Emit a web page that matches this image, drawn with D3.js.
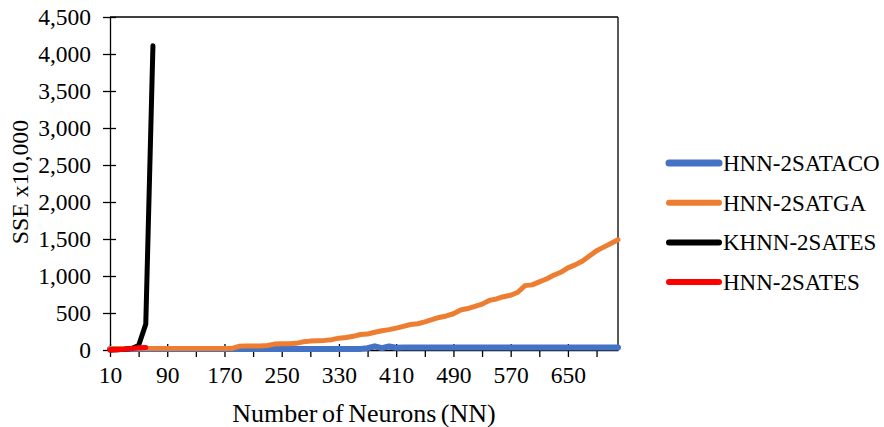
<!DOCTYPE html>
<html>
<head>
<meta charset="utf-8">
<script src="https://cdn.jsdelivr.net/npm/d3@7"></script>
<style>
  body { margin: 0; background: #fff; }
  svg { display: block; }
  svg text { font-family: 'Liberation Serif', 'Times New Roman', serif; fill: #000; }
</style>
</head>
<body>
<svg id="chart" width="884" height="427"></svg>
<script>
// ---- data ----
const neurons = d3.range(10, 721, 10); // 10..720 step 10
const seriesNames = ["HNN-2SATACO", "HNN-2SATGA", "KHNN-2SATES", "HNN-2SATES"];
const seriesColors = ["#4472C4", "#ED7D31", "#000000", "#FF0000"];
const seriesWidths = [6, 5, 5, 5];

const acoValues = [
  15,15,15,15,15,15,15,15,15,15, 15,15,15,15,15,15,15,15,15,15,
  15,15,15,15,15,15,15,15,15,15, 15,15,15,15,15,15,25,50,25,48,
  30,35,35,35,35,35,35,35,35,35, 35,35,35,35,35,35,35,35,35,35,
  35,35,35,35,35,35,35,35,35,35, 35,35
];
const gaValues = [
  20,20,20,20,20,20,20,20,20,20, 20,20,20,20,20,20,20,20,50,55,
  55,55,60,80,85,85,90,110,120,125, 130,140,160,170,185,210,215,240,260,275,
  295,320,345,355,380,410,440,460,490,540, 560,590,620,670,690,720,740,780,870,880,
  920,960,1010,1050,1110,1150,1200,1270,1340,1390, 1440,1490
];
const khnnNeurons = [10, 20, 30, 40, 50, 60, 70];
const khnnValues = [0, 5, 10, 20, 60, 350, 4110];
const esNeurons = [10, 20, 30, 40, 50, 60];
const esValues = [0, 5, 10, 20, 30, 35];

const yTicks = d3.range(0, 4501, 500);
const xTicks = d3.range(10, 691, 40);
const xLabelTicks = d3.range(10, 691, 80);

// ---- layout ----
const FONT = "'Liberation Serif', 'Times New Roman', serif";
const svg = d3.select("#chart");
const mLeft = 110, mRight = 618, mTop = 17, mBottom = 350;

const x = d3.scaleLinear().domain([10, 720]).range([mLeft, mRight]);
const y = d3.scaleLinear().domain([0, 4500]).range([mBottom, mTop]);

// frame (top & right borders)
svg.append("line").attr("x1", mLeft).attr("x2", mRight).attr("y1", mTop).attr("y2", mTop)
  .attr("stroke", "#000").attr("stroke-width", 1.3);
svg.append("line").attr("x1", mRight).attr("x2", mRight).attr("y1", mTop).attr("y2", mBottom)
  .attr("stroke", "#000").attr("stroke-width", 1.3);

// y axis
const yAxis = d3.axisLeft(y).tickValues(yTicks).tickFormat(d3.format(",")).tickSize(7).tickSizeOuter(0);
const gy = svg.append("g").attr("transform", `translate(${mLeft},0)`).call(yAxis)
  .attr("font-family", FONT);
gy.select(".domain").attr("stroke", "#000").attr("stroke-width", 1.3);
gy.selectAll(".tick line").attr("stroke", "#000").attr("stroke-width", 1.3).attr("x1", 6);
gy.selectAll(".tick text").attr("x", -19).attr("font-size", 23.5).attr("fill", "#000")
  .attr("font-family", FONT);

// x axis
const xAxis = d3.axisBottom(x).tickValues(xTicks)
  .tickFormat(d => xLabelTicks.includes(d) ? d : "").tickSize(7).tickSizeOuter(0);
const gx = svg.append("g").attr("transform", `translate(0,${mBottom})`).call(xAxis)
  .attr("font-family", FONT);
gx.select(".domain").attr("stroke", "#000").attr("stroke-width", 1.3);
gx.selectAll(".tick line").attr("stroke", "#000").attr("stroke-width", 1.3)
  .attr("y1", d => xLabelTicks.includes(d) ? -6 : 0);
gx.selectAll(".tick text").attr("y", 16).attr("font-size", 23.5).attr("fill", "#000")
  .attr("font-family", FONT);

// axis titles
svg.append("text").attr("x", (mLeft + mRight) / 2).attr("y", 422)
  .attr("text-anchor", "middle").attr("font-size", 26).attr("word-spacing", -2)
  .attr("font-family", FONT).text("Number of Neurons (NN)");
svg.append("text").attr("transform", `translate(28,182) rotate(-90)`)
  .attr("text-anchor", "middle").attr("font-size", 23.8)
  .attr("font-family", FONT).text("SSE x10,000");

// series
const series = [
  { xs: neurons, ys: acoValues },
  { xs: neurons, ys: gaValues },
  { xs: khnnNeurons, ys: khnnValues },
  { xs: esNeurons, ys: esValues }
];
const line = d3.line().x(d => x(d[0])).y(d => y(d[1]));
series.forEach((s, i) => {
  const pts = s.xs.map((v, j) => [v, s.ys[j]]);
  svg.append("path").datum(pts).attr("d", line)
    .attr("fill", "none").attr("stroke", seriesColors[i]).attr("stroke-width", seriesWidths[i])
    .attr("stroke-linejoin", "round").attr("stroke-linecap", "round");
});

// legend
const lg = svg.append("g");
seriesNames.forEach((name, i) => {
  const yy = 163 + i * 39.7;
  lg.append("line").attr("x1", 669).attr("x2", 719).attr("y1", yy).attr("y2", yy)
    .attr("stroke", seriesColors[i]).attr("stroke-width", seriesWidths[i] + 1).attr("stroke-linecap", "round");
  lg.append("text").attr("x", 723).attr("y", yy).attr("dy", "0.35em")
    .attr("font-size", 23).attr("font-family", FONT).text(name);
});
</script>
</body>
</html>
